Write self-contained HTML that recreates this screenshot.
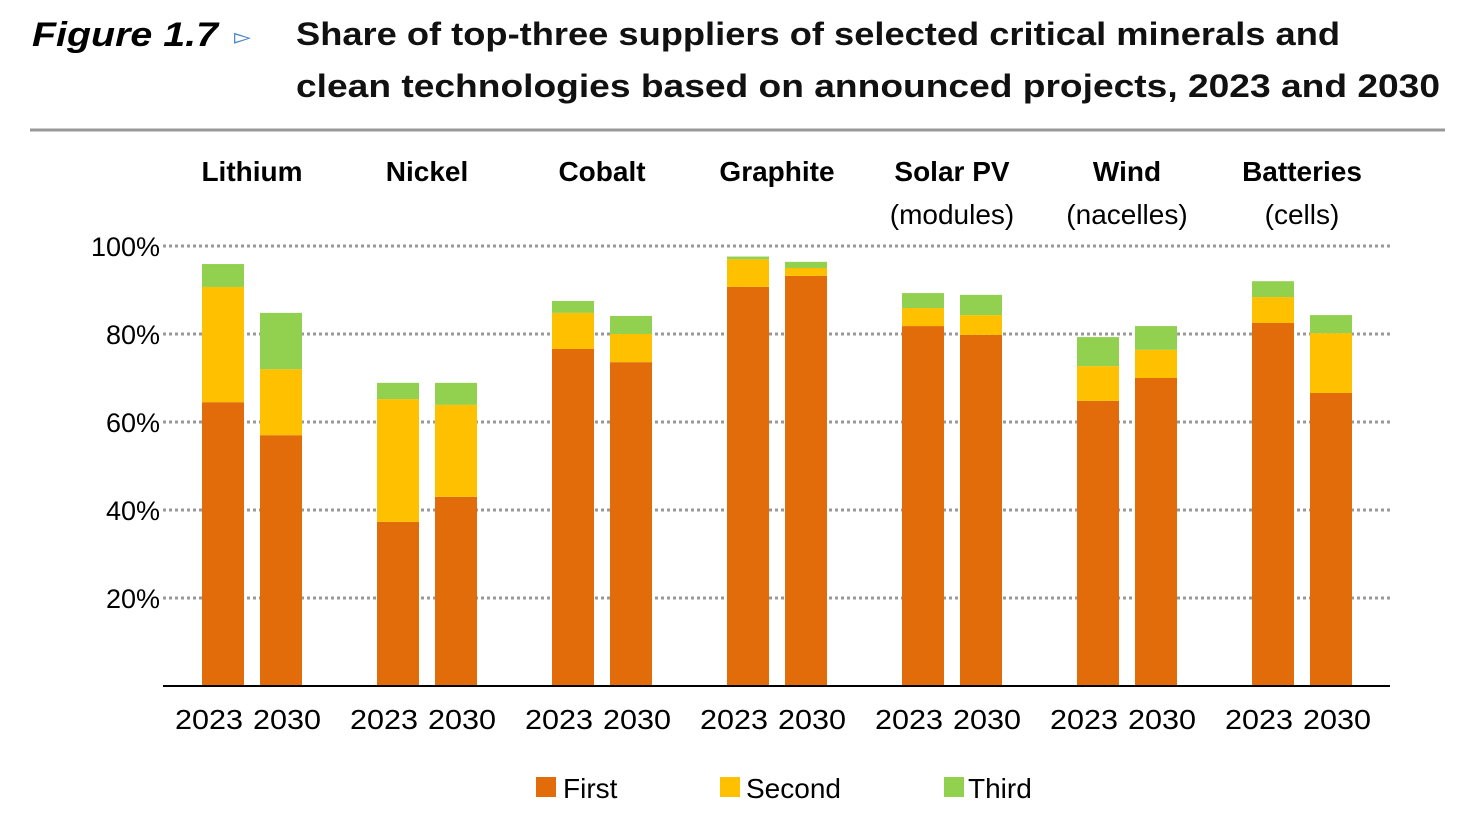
<!DOCTYPE html>
<html><head><meta charset="utf-8"><style>
body{margin:0;background:#fff;width:1461px;height:808px;overflow:hidden;font-family:"Liberation Sans",sans-serif}
</style></head><body>
<svg width="1461" height="808" xmlns="http://www.w3.org/2000/svg">
<text x="32" y="46" font-size="34" font-weight="bold" font-style="italic" textLength="186" lengthAdjust="spacingAndGlyphs" font-family="Liberation Sans, sans-serif">Figure 1.7</text>
<text x="234" y="44" font-size="22" fill="#4a86c5">▻</text>
<text x="296" y="45" font-size="32" font-weight="bold" fill="#111" textLength="1044" lengthAdjust="spacingAndGlyphs">Share of top-three suppliers of selected critical minerals and</text>
<text x="296" y="97" font-size="32" font-weight="bold" fill="#111" textLength="1144" lengthAdjust="spacingAndGlyphs">clean technologies based on announced projects, 2023 and 2030</text>
<line x1="30" y1="130" x2="1445" y2="130" stroke="#999" stroke-width="3"/>
<g id="grid"></g><g id="bars"></g><g id="labels"></g>
<line x1="163" y1="686" x2="1390" y2="686" stroke="#000" stroke-width="2"/>
<g>
<rect x="536" y="777" width="20" height="20" fill="#E36C0A"/>
<text x="563" y="798" font-size="28">First</text>
<rect x="720" y="777" width="20" height="20" fill="#FFC000"/>
<text x="746" y="798" font-size="28">Second</text>
<rect x="944" y="777" width="20" height="20" fill="#92D050"/>
<text x="968" y="798" font-size="28">Third</text>
</g>
</svg>
<script>
const categories=["Lithium","Nickel","Cobalt","Graphite","Solar PV","Wind","Batteries"];
const subLabels=["","","","","(modules)","(nacelles)","(cells)"];
const years=["2023","2030"];
const first2023=[64.5,37.3,76.6,90.7,81.8,64.8,82.5];
const second2023=[26.2,27.9,8.2,6.3,4.1,7.9,5.9];
const third2023=[5.2,3.7,2.7,0.6,3.4,6.6,3.6];
const first2030=[57,43,73.6,93.2,79.8,70,66.6];
const second2030=[15,20.9,6.4,1.8,4.5,6.4,13.6];
const third2030=[12.8,5,4.1,1.4,4.6,5.4,4.1];
const yTicks=[20,40,60,80,100];
const NS="http://www.w3.org/2000/svg";
const y=v=>686-v*4.4;
const gx=i=>252+i*175;
function mk(t,a,p){const e=document.createElementNS(NS,t);for(const k in a)e.setAttribute(k,a[k]);p.appendChild(e);return e;}
const grid=document.getElementById('grid'),bars=document.getElementById('bars'),lab=document.getElementById('labels');
yTicks.forEach(v=>{
 const l=mk('line',{x1:163,x2:1390,y1:y(v),y2:y(v),stroke:'#999','stroke-width':3,'stroke-dasharray':'3 3'},grid);
 
 
 const t=mk('text',{x:160,y:y(v)+10,'font-size':27,'text-anchor':'end'},lab);
 t.textContent=v+'%';
 
 
});
const cols=["#E36C0A","#FFC000","#92D050"],tn=["first","second","third"];
categories.forEach((c,i)=>{
 const t=mk('text',{x:gx(i),y:181,'font-size':28,'font-weight':'bold','text-anchor':'middle'},lab);
 t.textContent=c;
 
 
 if(subLabels[i]){const s=mk('text',{x:gx(i),y:224,'font-size':28,'text-anchor':'middle'},lab);
 s.textContent=subLabels[i];
 
 }
 [[first2023,second2023,third2023],[first2030,second2030,third2030]].forEach((ser,j)=>{
  const x=gx(i)-50+j*58;let base=0;
  ser.forEach((arr,k)=>{const v=arr[i];
   const r=mk('rect',{x:x,width:42,y:y(base+v),height:v*4.4,fill:cols[k]},bars);
   
   
   base+=v;});
  const yl=mk('text',{x:gx(i)-77+j*78,y:729,'font-size':28,textLength:68,lengthAdjust:'spacingAndGlyphs'},lab);
  yl.textContent=years[j];
  
  
 });
});
</script>
</body></html>
